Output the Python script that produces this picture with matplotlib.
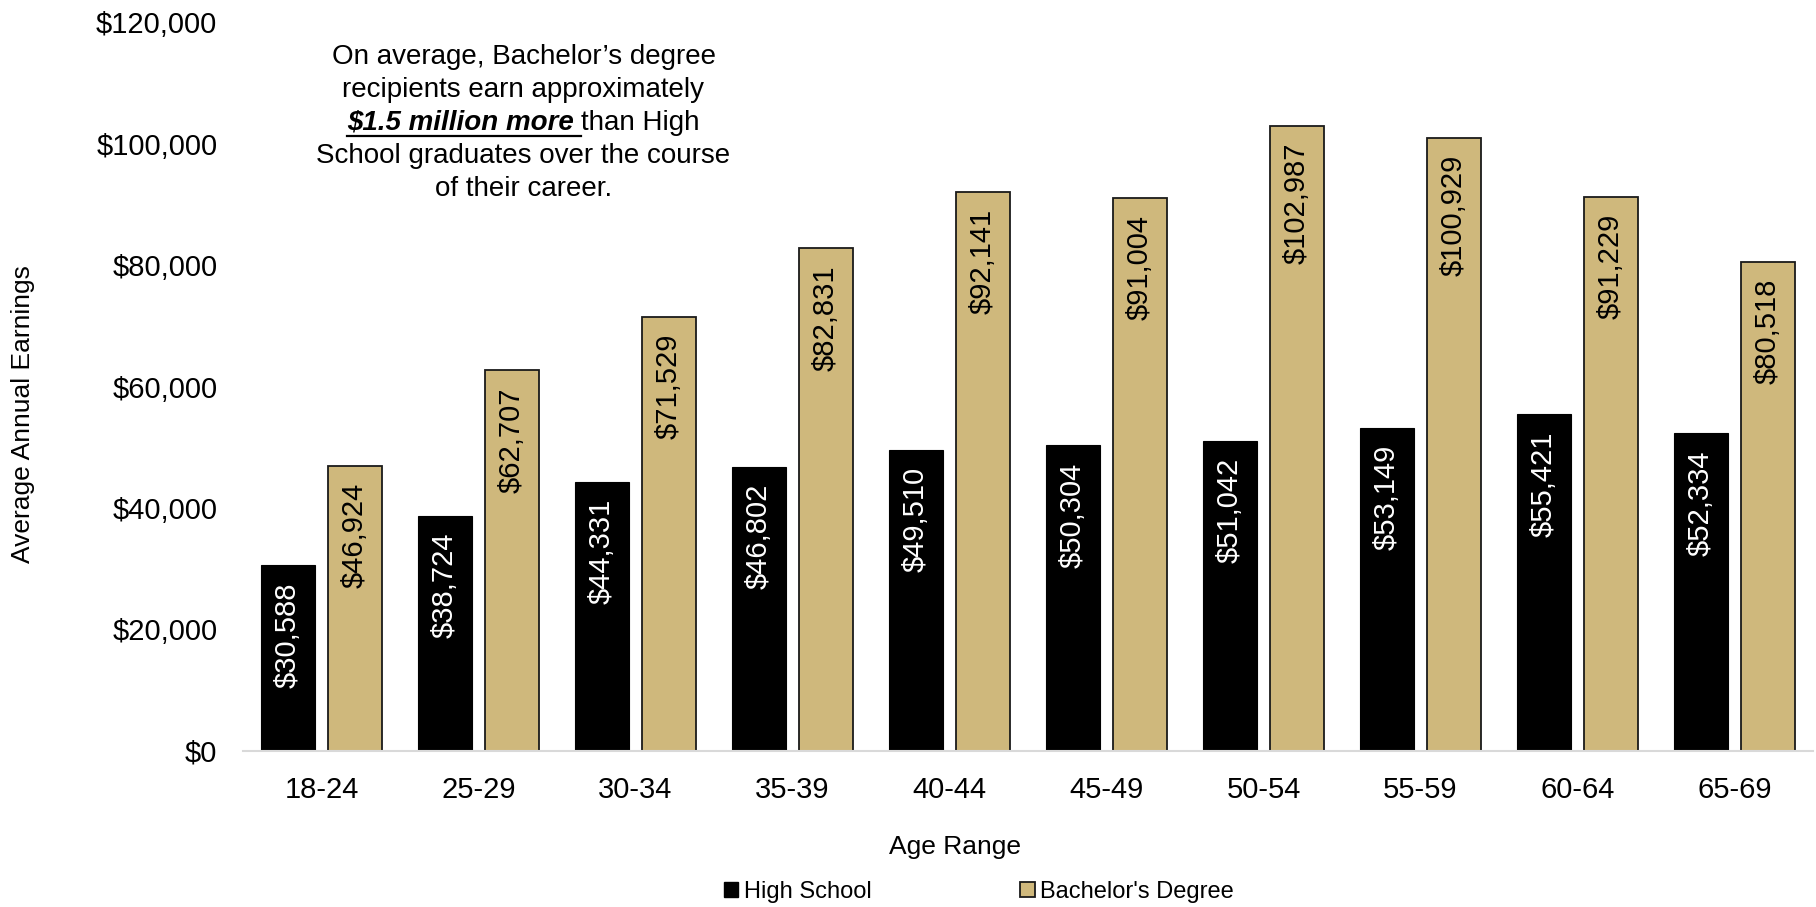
import matplotlib
matplotlib.use("Agg")
import matplotlib.pyplot as plt
import numpy as np
from matplotlib.patches import Patch
from matplotlib.lines import Line2D
from matplotlib.ticker import FuncFormatter

plt.rcParams['font.family'] = ['Liberation Sans', 'DejaVu Sans']

age_ranges = ["18-24", "25-29", "30-34", "35-39", "40-44", "45-49", "50-54", "55-59", "60-64", "65-69"]
high_school = [30588, 38724, 44331, 46802, 49510, 50304, 51042, 53149, 55421, 52334]
bachelors = [46924, 62707, 71529, 82831, 92141, 91004, 102987, 100929, 91229, 80518]
series_names = ["High School", "Bachelor's Degree"]
y_ticks = [0, 20000, 40000, 60000, 80000, 100000, 120000]
note_lines = ["On average, Bachelor\u2019s degree", "recipients earn approximately",
              None, "School graduates over the course", "of their career."]
note_bold = "$1.5 million more"
note_rest = "than High"

HS_COLOR = "#000000"
BA_COLOR = "#CFB87C"

W, H = 1816, 907
fig = plt.figure(figsize=(W / 100, H / 100), dpi=100)
ax = fig.add_axes([243 / W, 156.3 / H, 1570 / W, 728.2 / H])

x = np.arange(len(age_ranges))
bw = 0.338
off = 0.2135
b1 = ax.bar(x - off, high_school, bw, color=HS_COLOR, edgecolor=HS_COLOR, linewidth=0.8)
b2 = ax.bar(x + off, bachelors, bw, color=BA_COLOR, edgecolor="#1a1a1a", linewidth=1.3)

for xi, v in zip(x - off, high_school):
    ax.annotate(f"${v:,}", xy=(xi, v), xytext=(0, -17), textcoords="offset pixels",
                rotation=90, ha="center", va="top", color="white", fontsize=21)
for xi, v in zip(x + off, bachelors):
    ax.annotate(f"${v:,}", xy=(xi, v), xytext=(0, -17), textcoords="offset pixels",
                rotation=90, ha="center", va="top", color="black", fontsize=21)

ax.set_xlim(-0.5, len(age_ranges) - 0.5)
ax.set_ylim(0, 120000)
ax.set_yticks(y_ticks)
ax.yaxis.set_major_formatter(FuncFormatter(lambda v, p: f"${v:,.0f}"))
ax.set_xticks(x)
ax.set_xticklabels(age_ranges)
ax.tick_params(axis="y", length=0, pad=18.5, labelsize=21)
ax.tick_params(axis="x", length=0, pad=18, labelsize=21)
for s in ["top", "right", "left"]:
    ax.spines[s].set_visible(False)
ax.spines["bottom"].set_color("#D9D9D9")
ax.spines["bottom"].set_linewidth(1.5)

fig.text(23 / W, 1 - 414 / H, "Average Annual Earnings", rotation=90, ha="center", va="center", fontsize=19)
fig.text(955 / W, 1 - 847 / H, "Age Range", ha="center", va="center", fontsize=19)

handles = [Patch(facecolor=HS_COLOR, edgecolor=HS_COLOR),
           Patch(facecolor=BA_COLOR, edgecolor="#1a1a1a", linewidth=1.3)]
fig.legend(handles, series_names, loc="center", bbox_to_anchor=(979 / W, 1 - 892 / H),
           ncol=2, frameon=False, fontsize=17, handlelength=0.6, handleheight=0.6,
           handletextpad=0.25, columnspacing=6.3, borderpad=0)

# annotation
cx = 523.5
line_y = [57, 90, 123, 156, 189]
fs = 20
for txt, yc in zip(note_lines, line_y):
    if txt is not None:
        fig.text(cx / W, 1 - yc / H, txt, ha="center", va="center", fontsize=fs)

renderer = fig.canvas.get_renderer()
yc = line_y[2]
t1 = fig.text(0, 1 - yc / H, note_bold, ha="left", va="center", fontsize=fs,
              fontweight="bold", fontstyle="italic")
t2 = fig.text(0, 1 - yc / H, note_rest, ha="left", va="center", fontsize=fs)
w1 = t1.get_window_extent(renderer).width
w2 = t2.get_window_extent(renderer).width
space = 0.278 * fs * 100 / 72
total = w1 + space + w2
left = cx - total / 2
t1.set_x(left / W)
t2.set_x((left + w1 + space) / W)
uy = 1 - (yc + 13) / H
fig.add_artist(Line2D([left / W, (left + w1 + space) / W], [uy, uy], color="black",
                      linewidth=1.6, transform=fig.transFigure))

fig.savefig("out.png", dpi=100)
